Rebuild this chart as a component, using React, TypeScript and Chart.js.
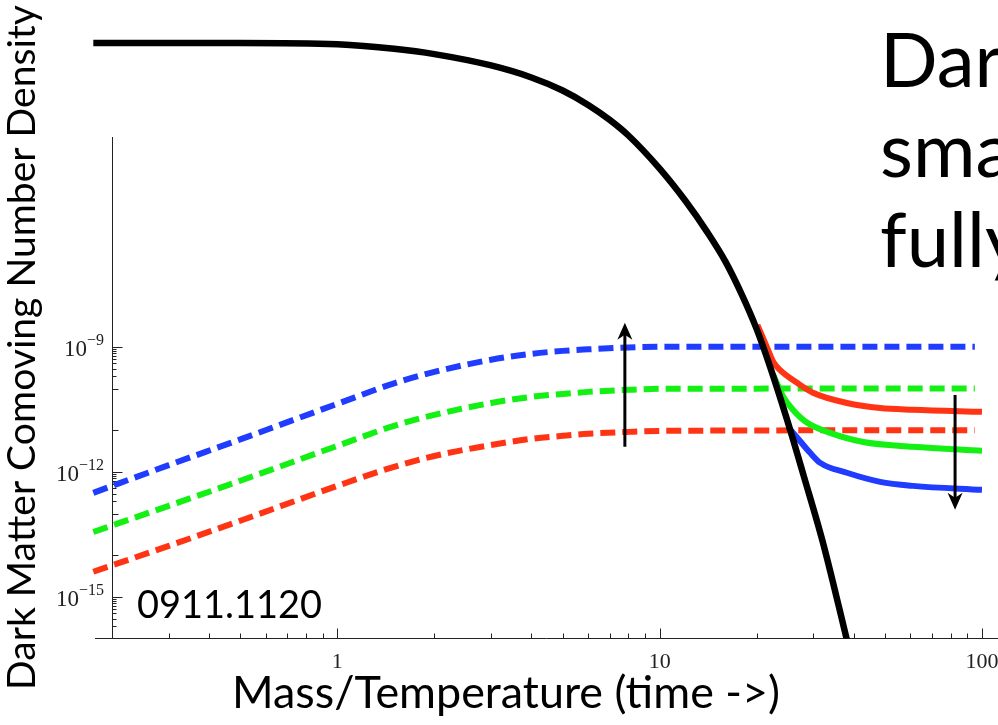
import React, { useEffect, useRef } from "react";
import { Chart, registerables } from "chart.js";

Chart.register(...registerables);

// Equilibrium (black) curve
const eqX = [0.175, 0.5, 1, 1.5, 2, 3, 4, 5, 6, 7, 8, 10, 12, 14, 16, 18, 20, 22, 25, 28, 32, 36, 40];
const eqY = [1.97e-2, 1.97e-2, 1.82e-2, 1.42e-2, 1.06e-2, 5.66e-3, 2.92e-3, 1.42e-3, 6.4e-4, 2.8e-4, 1.18e-4, 1.89e-5, 3.24e-6, 5.9e-7, 1.11e-7, 1.77e-8, 2.66e-9, 3.35e-10, 1.53e-11, 7.9e-13, 2.2e-14, 5.7e-16, 1.9e-17];

// Dashed curves
const dashX = [0.175, 0.3, 0.5, 1, 1.5, 2, 3, 4, 5, 6, 8, 10, 95];
const blueDashY = [3.13e-13, 1.45e-12, 6.0e-12, 4.28e-11, 1.33e-10, 2.5e-10, 4.9e-10, 6.8e-10, 8.0e-10, 8.7e-10, 9.7e-10, 1e-9, 1e-9];
const greenDashY = [3.6e-14, 1.53e-13, 6.1e-13, 4.2e-12, 1.27e-11, 2.33e-11, 4.5e-11, 6.3e-11, 7.4e-11, 8.3e-11, 9.3e-11, 9.8e-11, 1e-10];
const redDashY = [4.0e-15, 1.67e-14, 6.7e-14, 4.6e-13, 1.32e-12, 2.4e-12, 4.4e-12, 6.2e-12, 7.3e-12, 8.2e-12, 9.1e-12, 9.6e-12, 1e-11];

// Solid freeze-out curves
const redSolidX = [20.1, 21.5, 22.5, 23.6, 26.7, 29.9, 38.1, 48.3, 61.1, 100];
const redSolidY = [3.37e-9, 1.0e-9, 4.4e-10, 2.8e-10, 1.37e-10, 7.9e-11, 4.5e-11, 3.4e-11, 3.1e-11, 2.75e-11];
const greenSolidX = [22.5, 24.2, 25.9, 28.7, 33.8, 42.8, 61.1, 100];
const greenSolidY = [2.13e-10, 6.3e-11, 3.1e-11, 1.5e-11, 8.6e-12, 5.2e-12, 4.0e-12, 3.2e-12];
const blueSolidX = [25, 27.3, 29.3, 31.5, 38.1, 48.3, 61.1, 100];
const blueSolidY = [1.2e-11, 5.4e-12, 2.86e-12, 1.64e-12, 9.5e-13, 5.75e-13, 4.6e-13, 3.7e-13];

// Arrows
const arrowX = [7.8, 82.5];
const arrowFrom = [4.0e-12, 7.0e-11];
const arrowTo = [3.8e-9, 1.23e-13];

// Ticks & labels
const yDecades = [-16, -15, -14, -13, -12, -11, -10, -9];
const yLabelExps = [-9, -12, -15];
const xTickDecades = [-1, 0, 1, 2];
const xLabelVals = [1, 10, 100];
const xLabels = ["1", "10", "100"];

const yTitle = "Dark Matter Comoving Number Density";
const xTitle = "Mass/Temperature (time ->)";
const refLabel = "0911.1120";
const slideLines = ["Dar", "sma", "fully"];

const BLUE = "#1f3cff";
const GREEN = "#14f014";
const RED = "#ff3414";

function fitSize(ctx: CanvasRenderingContext2D, text: string, family: string, width: number) {
  ctx.font = `100px ${family}`;
  const w = ctx.measureText(text).width;
  return (100 * width) / w;
}

const decor = {
  id: "decor",
  beforeDatasetsDraw(chart: any) {
    const { ctx, chartArea: area } = chart;
    const xs = chart.scales.x;
    const ys = chart.scales.y;
    ctx.save();
    ctx.strokeStyle = "#222";
    ctx.lineWidth = 1;
    const ax = Math.round(area.left) + 0.5;
    const ay = Math.round(area.bottom) - 0.5;
    ctx.beginPath();
    ctx.moveTo(ax, 137);
    ctx.lineTo(ax, ay);
    ctx.moveTo(area.left - 17, ay);
    ctx.lineTo(chart.width, ay);
    ctx.stroke();

    // y ticks (inward)
    ctx.beginPath();
    for (const e of yDecades) {
      const labeled = yLabelExps.includes(e);
      const py = Math.round(ys.getPixelForValue(Math.pow(10, e))) + 0.5;
      if (py < ay - 1) {
        ctx.moveTo(ax, py);
        ctx.lineTo(ax + (labeled ? 10 : 6), py);
      }
      if (labeled) {
        for (let m = 2; m <= 9; m++) {
          const p = Math.round(ys.getPixelForValue(m * Math.pow(10, e - 1))) + 0.5;
          ctx.moveTo(ax, p);
          ctx.lineTo(ax + 4, p);
        }
      }
    }
    // x ticks (inward)
    for (const d of xTickDecades) {
      for (let m = 1; m <= 9; m++) {
        const v = m * Math.pow(10, d);
        if (v <= 0.21 || v > 100.01) continue;
        const px = Math.round(xs.getPixelForValue(v)) + 0.5;
        ctx.moveTo(px, ay);
        ctx.lineTo(px, ay - (m === 1 ? 10 : 5));
      }
    }
    ctx.stroke();

    // y tick labels
    ctx.fillStyle = "#222";
    ctx.textBaseline = "alphabetic";
    for (const e of yLabelExps) {
      const py = ys.getPixelForValue(Math.pow(10, e));
      const sup = "\u2212" + String(-e);
      ctx.font = '16px "Liberation Serif"';
      const sw = ctx.measureText(sup).width;
      ctx.textAlign = "right";
      ctx.fillText(sup, 104, py - 2);
      ctx.font = '23px "Liberation Serif"';
      ctx.fillText("10", 104 - sw, py + 9);
    }
    // x tick labels
    ctx.textAlign = "center";
    ctx.font = '22px "Liberation Serif"';
    xLabelVals.forEach((v, i) => {
      ctx.fillText(xLabels[i], xs.getPixelForValue(v), 668);
    });
    ctx.restore();
  },
  afterDatasetsDraw(chart: any) {
    const { ctx } = chart;
    const xs = chart.scales.x;
    const ys = chart.scales.y;
    ctx.save();
    // arrows
    ctx.strokeStyle = "#000";
    ctx.fillStyle = "#000";
    ctx.lineWidth = 3;
    arrowX.forEach((v, i) => {
      const px = xs.getPixelForValue(v);
      const y0 = ys.getPixelForValue(arrowFrom[i]);
      const y1 = ys.getPixelForValue(arrowTo[i]);
      const dir = y1 < y0 ? -1 : 1;
      ctx.beginPath();
      ctx.moveTo(px, y0);
      ctx.lineTo(px, y1 - dir * 10);
      ctx.stroke();
      ctx.beginPath();
      ctx.moveTo(px, y1);
      ctx.lineTo(px - 7.5, y1 - dir * 17);
      ctx.lineTo(px, y1 - dir * 12);
      ctx.lineTo(px + 7.5, y1 - dir * 17);
      ctx.closePath();
      ctx.fill();
    });

    // texts
    const fam = "Lato, 'Open Sans', sans-serif";
    ctx.fillStyle = "#000";
    ctx.textBaseline = "alphabetic";

    ctx.textAlign = "left";
    const rs = fitSize(ctx, refLabel, fam, 185);
    ctx.font = `${rs}px ${fam}`;
    ctx.fillText(refLabel, 137, 618);

    ctx.textAlign = "center";
    const xsz = fitSize(ctx, xTitle, fam, 548);
    ctx.font = `${xsz}px ${fam}`;
    ctx.fillText(xTitle, 506, 708);

    const ysz = fitSize(ctx, yTitle, fam, 685);
    ctx.save();
    ctx.translate(35, 347.5);
    ctx.rotate(-Math.PI / 2);
    ctx.font = `${ysz}px ${fam}`;
    ctx.fillText(yTitle, 0, 0);
    ctx.restore();

    ctx.textAlign = "left";
    ctx.font = `76px ${fam}`;
    slideLines.forEach((t, i) => {
      ctx.fillText(t, 880, 87 + i * 90);
    });
    ctx.restore();
  },
};

function pts(xa: number[], ya: number[]) {
  return xa.map((x, i) => ({ x, y: ya[i] }));
}

export default function App() {
  const ref = useRef<HTMLCanvasElement | null>(null);
  useEffect(() => {
    if (!ref.current) return;
    const common = { pointRadius: 0, cubicInterpolationMode: "monotone" as const, fill: false };
    const dashClip = { left: 25, top: 0, right: 0, bottom: 0 };
    const chart = new Chart(ref.current, {
      type: "line",
      data: {
        datasets: [
          { ...common, data: pts(eqX, eqY), borderColor: "#000", borderWidth: 6.5, clip: { left: 25, top: 120, right: 0, bottom: 0 } as any },
          { ...common, data: pts(redSolidX, redSolidY), borderColor: RED, borderWidth: 6, clip: dashClip as any },
          { ...common, data: pts(greenSolidX, greenSolidY), borderColor: GREEN, borderWidth: 6, clip: dashClip as any },
          { ...common, data: pts(blueSolidX, blueSolidY), borderColor: BLUE, borderWidth: 6, clip: dashClip as any },
          { ...common, data: pts(dashX, blueDashY), borderColor: BLUE, borderWidth: 6, borderDash: [15, 7], clip: dashClip as any },
          { ...common, data: pts(dashX, greenDashY), borderColor: GREEN, borderWidth: 6, borderDash: [15, 7], clip: dashClip as any },
          { ...common, data: pts(dashX, redDashY), borderColor: RED, borderWidth: 6, borderDash: [15, 7], clip: dashClip as any },
        ],
      },
      options: {
        responsive: false,
        animation: false,
        devicePixelRatio: 1,
        events: [],
        layout: { padding: { left: 112, right: 16, top: 138.5, bottom: 86.5 } },
        scales: {
          x: { type: "logarithmic", min: 0.2, max: 100, display: false },
          y: { type: "logarithmic", min: 1e-16, max: 1e-4, display: false },
        },
        plugins: { legend: { display: false }, tooltip: { enabled: false } },
      },
      plugins: [decor as any],
    });
    return () => chart.destroy();
  }, []);
  return (
    <div style={{ position: "absolute", left: 0, top: 0, width: 998, height: 725, background: "#fff", overflow: "hidden" }}>
      <canvas ref={ref} width={998} height={725} style={{ display: "block", width: 998, height: 725 }} />
    </div>
  );
}
